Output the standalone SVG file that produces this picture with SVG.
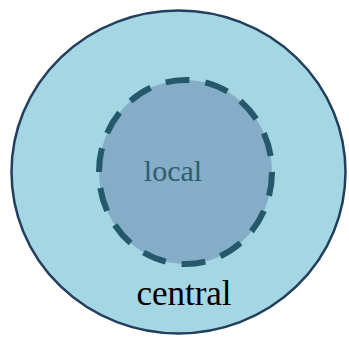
<svg xmlns="http://www.w3.org/2000/svg" width="349" height="341" viewBox="0 0 349 341">
<style>
.outer{fill:#a4d6e3;stroke:#233f5e;stroke-width:2.5}
.inner{fill:#85adc8;stroke:#23596a;stroke-width:6;stroke-dasharray:24 16}
.lbl{font-family:"Liberation Serif","Times New Roman",serif;text-anchor:middle}
</style>
<rect width="349" height="341" fill="#ffffff"/>
<g id="central">
<ellipse class="outer" cx="178.5" cy="172" rx="167" ry="161.5"/>
<text class="lbl" x="184" y="305" font-size="35" fill="#000000">central</text>
</g>
<g id="local">
<ellipse class="inner" cx="185.5" cy="172" rx="86.5" ry="92"/>
<text class="lbl" x="173" y="181" font-size="30" fill="#2c5e6e">local</text>
</g>
<g id="connectors"></g>
</svg>
